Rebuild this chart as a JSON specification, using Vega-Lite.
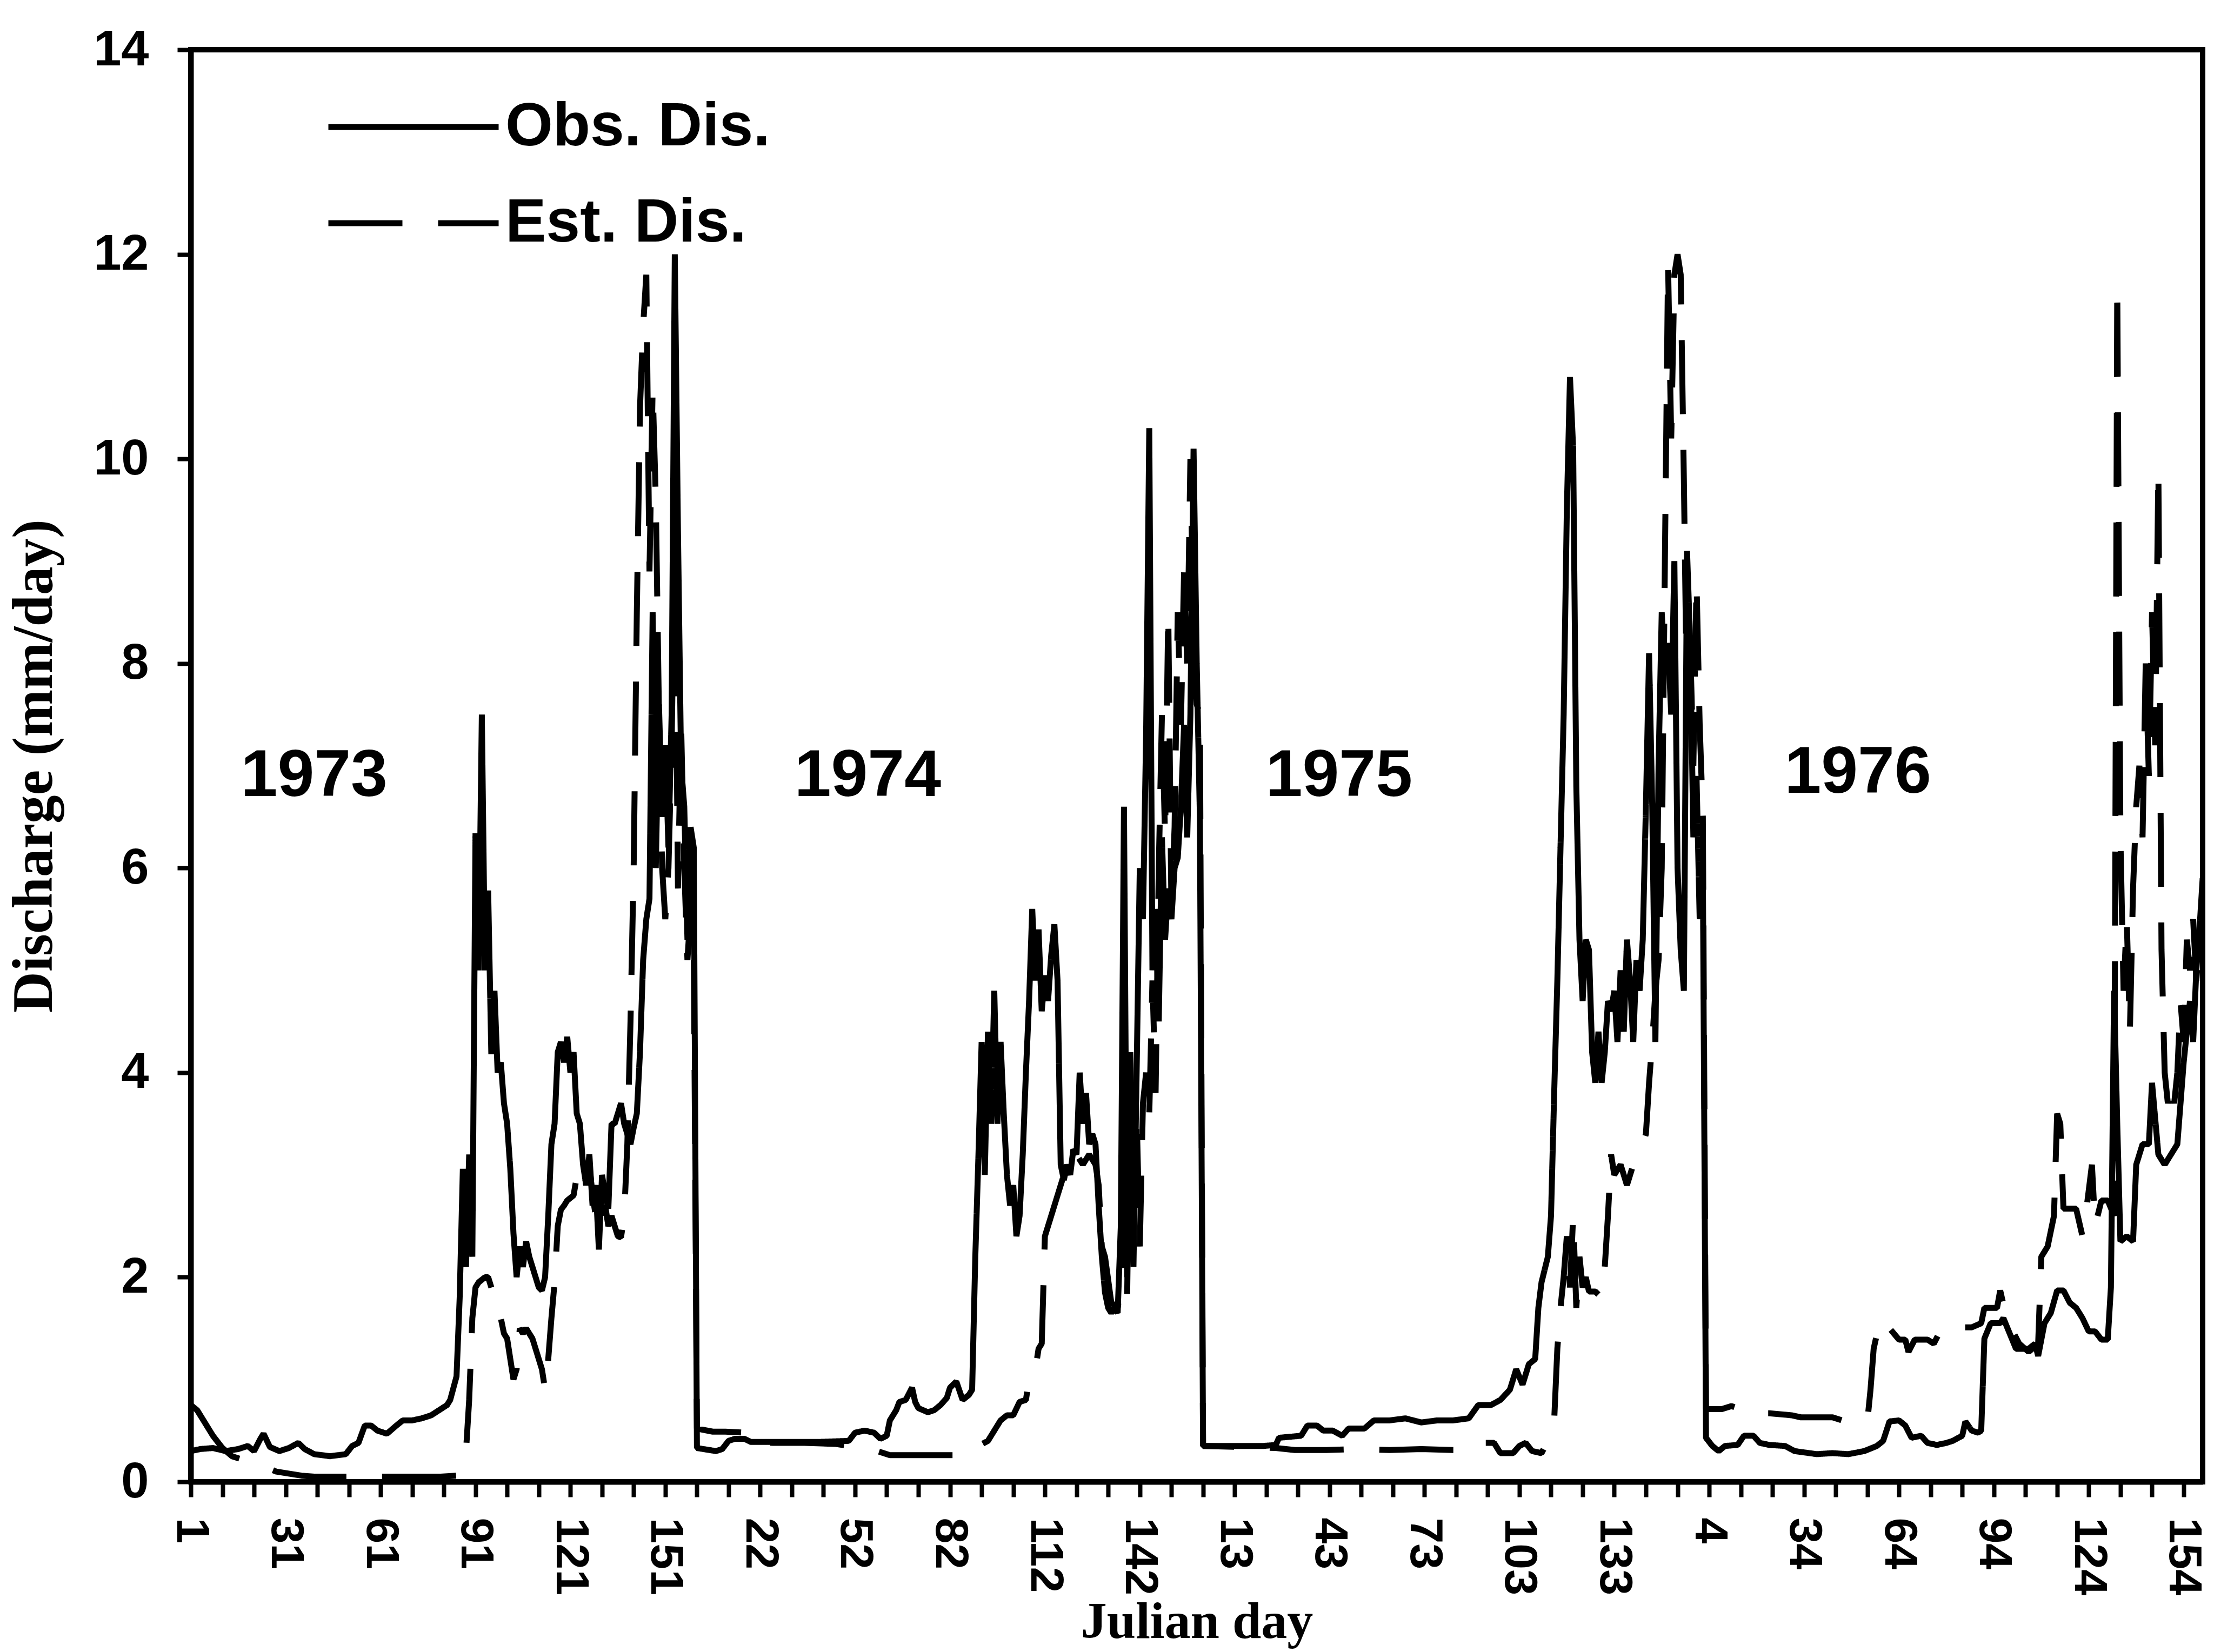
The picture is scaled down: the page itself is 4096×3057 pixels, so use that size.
{
"$schema": "https://vega.github.io/schema/vega-lite/v6.json",
"width": 3722,
"height": 2650,
"autosize": {"type": "none"},
"padding": {"left": 353, "top": 92, "right": 21, "bottom": 315},
"background": "white",
"config": {"view": {"stroke": "black", "strokeWidth": 10}},
"datasets": {
"obs": [
{"d":1,"v":0.3},{"d":4,"v":0.32},{"d":8,"v":0.33},{"d":12,"v":0.3},{"d":16,"v":0.32},{"d":19,"v":0.35},{"d":21,"v":0.3},{"d":23,"v":0.42},{"d":24,"v":0.47},{"d":26,"v":0.34},{"d":29,"v":0.3},{"d":32,"v":0.33},{"d":35,"v":0.38},{"d":37,"v":0.32},{"d":40,"v":0.27},{"d":45,"v":0.25},{"d":50,"v":0.27},{"d":52,"v":0.35},{"d":54,"v":0.38},{"d":56,"v":0.55},{"d":58,"v":0.55},{"d":60,"v":0.5},{"d":63,"v":0.47},{"d":66,"v":0.55},{"d":68,"v":0.6},{"d":71,"v":0.6},{"d":74,"v":0.62},{"d":77,"v":0.65},{"d":80,"v":0.71},{"d":82,"v":0.75},{"d":83,"v":0.8},{"d":85,"v":1.03},{"d":86,"v":1.8},{"d":87,"v":3.06},{"d":88,"v":2.1},{"d":89,"v":3.2},{"d":90,"v":2.2},{"d":91,"v":6.34},{"d":92,"v":5.0},{"d":93,"v":7.5},{"d":94,"v":5.0},{"d":95,"v":5.78},{"d":96,"v":4.18},{"d":97,"v":4.8},{"d":98,"v":4.0},{"d":99,"v":4.1},{"d":100,"v":3.7},{"d":101,"v":3.5},{"d":102,"v":3.06},{"d":103,"v":2.43},{"d":104,"v":2.0},{"d":105,"v":2.3},{"d":106,"v":2.1},{"d":107,"v":2.35},{"d":108,"v":2.2},{"d":109,"v":2.1},{"d":110,"v":2.0},{"d":111,"v":1.9},{"d":112,"v":1.87},{"d":113,"v":2.0},{"d":114,"v":2.6},{"d":115,"v":3.3},{"d":116,"v":3.5},{"d":117,"v":4.2},{"d":118,"v":4.3},{"d":119,"v":4.1},{"d":120,"v":4.35},{"d":121,"v":4.0},{"d":122,"v":4.2},{"d":123,"v":3.6},{"d":124,"v":3.5},{"d":125,"v":3.1},{"d":126,"v":2.9},{"d":127,"v":3.2},{"d":128,"v":2.7},{"d":129,"v":2.9},{"d":130,"v":2.27},{"d":131,"v":3.0},{"d":132,"v":2.8},{"d":133,"v":2.67},{"d":134,"v":3.5},{"d":135,"v":3.5},{"d":136,"v":3.6},{"d":137,"v":3.7},{"d":138,"v":3.5},{"d":139,"v":3.4},{"d":140,"v":3.3},{"d":141,"v":3.46},{"d":142,"v":3.6},{"d":143,"v":4.2},{"d":144,"v":5.1},{"d":145,"v":5.5},{"d":146,"v":5.7},{"d":147,"v":8.5},{"d":148,"v":6.0},{"d":149,"v":7.6},{"d":150,"v":6.5},{"d":151,"v":7.2},{"d":152,"v":6.2},{"d":153,"v":7.5},{"d":154,"v":12.0},{"d":155,"v":9.3},{"d":156,"v":7.0},{"d":157,"v":6.6},{"d":158,"v":5.3},{"d":159,"v":6.4},{"d":160,"v":6.2},
{"d":161,"v":0.33},{"d":163,"v":0.32},{"d":167,"v":0.3},{"d":169,"v":0.32},{"d":171,"v":0.4},{"d":173,"v":0.42},{"d":176,"v":0.42},{"d":178,"v":0.39},{"d":190,"v":0.39},{"d":200,"v":0.39},{"d":209,"v":0.4},{"d":211,"v":0.48},{"d":214,"v":0.5},{"d":217,"v":0.48},{"d":219,"v":0.42},{"d":221,"v":0.45},{"d":222,"v":0.6},{"d":224,"v":0.7},{"d":225,"v":0.78},{"d":227,"v":0.8},{"d":229,"v":0.92},{"d":230,"v":0.78},{"d":231,"v":0.72},{"d":234,"v":0.68},{"d":236,"v":0.7},{"d":238,"v":0.75},{"d":240,"v":0.82},{"d":241,"v":0.92},{"d":243,"v":0.98},{"d":245,"v":0.8},{"d":247,"v":0.85},{"d":248,"v":0.9},{"d":249,"v":2.2},{"d":250,"v":3.2},{"d":251,"v":4.3},{"d":252,"v":3.0},{"d":253,"v":4.4},{"d":254,"v":3.5},{"d":255,"v":4.8},{"d":256,"v":3.5},{"d":257,"v":4.3},{"d":258,"v":3.6},{"d":259,"v":3.0},{"d":260,"v":2.7},{"d":261,"v":2.9},{"d":262,"v":2.4},{"d":263,"v":2.6},{"d":264,"v":3.2},{"d":265,"v":4.0},{"d":266,"v":4.7},{"d":267,"v":5.6},{"d":268,"v":4.9},{"d":269,"v":5.4},{"d":270,"v":4.6},{"d":271,"v":4.95},{"d":272,"v":4.7},{"d":273,"v":5.15},{"d":274,"v":5.45},{"d":275,"v":4.9},{"d":276,"v":3.1},{"d":277,"v":2.95},{"d":278,"v":3.1},{"d":279,"v":3.0},{"d":280,"v":3.25},{"d":281,"v":3.2},{"d":282,"v":4.0},{"d":283,"v":3.5},{"d":284,"v":3.8},{"d":285,"v":3.3},{"d":286,"v":3.4},{"d":287,"v":3.3},{"d":288,"v":2.7},{"d":289,"v":2.2},{"d":290,"v":1.85},{"d":291,"v":1.7},{"d":292,"v":1.65},{"d":293,"v":1.7},{"d":294,"v":1.65},{"d":295,"v":2.5},{"d":296,"v":6.6},{"d":297,"v":2.0},{"d":298,"v":3.8},{"d":299,"v":2.1},{"d":300,"v":4.0},{"d":301,"v":6.0},{"d":302,"v":5.5},{"d":303,"v":7.3},{"d":304,"v":10.3},{"d":305,"v":5.0},{"d":306,"v":5.6},{"d":307,"v":4.5},{"d":308,"v":6.3},{"d":309,"v":5.3},{"d":310,"v":5.8},{"d":311,"v":5.5},{"d":312,"v":6.0},{"d":313,"v":6.1},{"d":314,"v":6.6},{"d":315,"v":7.4},{"d":316,"v":6.3},{"d":317,"v":7.5},{"d":318,"v":10.1},{"d":319,"v":8.0},{"d":320,"v":6.5},
{"d":321,"v":0.35},{"d":330,"v":0.35},{"d":340,"v":0.35},{"d":344,"v":0.36},{"d":345,"v":0.43},{"d":352,"v":0.45},{"d":354,"v":0.55},{"d":357,"v":0.55},{"d":359,"v":0.5},{"d":362,"v":0.5},{"d":365,"v":0.45},{"d":367,"v":0.52},{"d":372,"v":0.52},{"d":375,"v":0.6},{"d":380,"v":0.6},{"d":385,"v":0.62},{"d":390,"v":0.58},{"d":395,"v":0.6},{"d":400,"v":0.6},{"d":405,"v":0.62},{"d":408,"v":0.75},{"d":412,"v":0.75},{"d":415,"v":0.8},{"d":418,"v":0.9},{"d":420,"v":1.1},{"d":422,"v":0.95},{"d":424,"v":1.15},{"d":426,"v":1.2},{"d":427,"v":1.7},{"d":428,"v":1.95},{"d":430,"v":2.2},{"d":431,"v":2.6},{"d":432,"v":3.8},{"d":433,"v":4.9},{"d":434,"v":6.2},{"d":435,"v":7.5},{"d":436,"v":9.5},{"d":437,"v":10.8},{"d":438,"v":10.1},{"d":439,"v":6.8},{"d":440,"v":5.3},{"d":441,"v":4.7},{"d":442,"v":5.3},{"d":443,"v":5.2},{"d":444,"v":4.2},{"d":445,"v":3.9},{"d":446,"v":4.4},{"d":447,"v":3.9},{"d":448,"v":4.2},{"d":449,"v":4.7},{"d":450,"v":4.6},{"d":451,"v":4.8},{"d":452,"v":4.3},{"d":453,"v":5.0},{"d":454,"v":4.4},{"d":455,"v":5.3},{"d":456,"v":4.9},{"d":457,"v":4.3},{"d":458,"v":5.1},{"d":459,"v":4.8},{"d":460,"v":5.3},{"d":461,"v":6.6},{"d":462,"v":8.1},{"d":463,"v":6.6},{"d":464,"v":4.3},{"d":465,"v":7.0},{"d":466,"v":8.5},{"d":467,"v":7.9},{"d":468,"v":8.2},{"d":469,"v":7.5},{"d":470,"v":9.0},{"d":471,"v":6.0},{"d":472,"v":5.2},{"d":473,"v":4.8},{"d":474,"v":9.1},{"d":475,"v":8.2},{"d":476,"v":6.3},{"d":477,"v":6.9},{"d":478,"v":5.5},{"d":479,"v":6.0},
{"d":480,"v":0.43},{"d":482,"v":0.35},{"d":484,"v":0.3},{"d":486,"v":0.35},{"d":490,"v":0.36},{"d":492,"v":0.45},{"d":495,"v":0.45},{"d":497,"v":0.38},{"d":500,"v":0.36},{"d":505,"v":0.35},{"d":508,"v":0.3},{"d":515,"v":0.27},{"d":520,"v":0.28},{"d":525,"v":0.27},{"d":530,"v":0.3},{"d":534,"v":0.35},{"d":536,"v":0.4},{"d":538,"v":0.59},{"d":541,"v":0.6},{"d":543,"v":0.55},{"d":545,"v":0.43},{"d":548,"v":0.45},{"d":550,"v":0.38},{"d":553,"v":0.36},{"d":556,"v":0.38},{"d":558,"v":0.4},{"d":561,"v":0.45},{"d":562,"v":0.59},{"d":564,"v":0.5},{"d":566,"v":0.48},{"d":567,"v":0.5},{"d":568,"v":1.4},{"d":570,"v":1.55},{"d":573,"v":1.55},{"d":574,"v":1.6},{"d":576,"v":1.45},{"d":578,"v":1.3},{"d":582,"v":1.3},{"d":584,"v":1.35},{"d":585,"v":1.23},{"d":587,"v":1.55},{"d":589,"v":1.65},{"d":591,"v":1.87},{"d":593,"v":1.87},{"d":595,"v":1.75},{"d":597,"v":1.7},{"d":599,"v":1.6},{"d":601,"v":1.47},{"d":603,"v":1.47},{"d":605,"v":1.39},{"d":607,"v":1.39},{"d":608,"v":1.9},{"d":609,"v":4.8},{"d":610,"v":3.5},{"d":611,"v":2.35},{"d":613,"v":2.4},{"d":615,"v":2.35},{"d":616,"v":3.1},{"d":618,"v":3.3},{"d":620,"v":3.3},{"d":621,"v":3.9},{"d":623,"v":3.2},{"d":625,"v":3.1},{"d":627,"v":3.2},{"d":629,"v":3.3},{"d":631,"v":4.1},{"d":633,"v":4.7},{"d":634,"v":4.3},{"d":635,"v":5.0},{"d":636,"v":5.4},{"d":637,"v":5.9}
],
"est": [
{"d":1,"v":0.75},{"d":3,"v":0.7},{"d":5,"v":0.6},{"d":8,"v":0.45},{"d":11,"v":0.33},{"d":14,"v":0.25},{"d":17,"v":0.22},{"d":20,"v":0.18},{"d":24,"v":0.15},{"d":28,"v":0.1},{"d":32,"v":0.08},{"d":36,"v":0.06},{"d":40,"v":0.05},{"d":60,"v":0.05},{"d":80,"v":0.05},{"d":85,"v":0.06},{"d":87,"v":0.15},{"d":88,"v":0.3},{"d":89,"v":0.8},{"d":90,"v":1.6},{"d":91,"v":1.9},{"d":92,"v":1.95},{"d":94,"v":2.0},{"d":95,"v":2.0},{"d":96,"v":1.9},{"d":97,"v":1.8},{"d":98,"v":1.8},{"d":99,"v":1.6},{"d":100,"v":1.45},{"d":101,"v":1.4},{"d":102,"v":1.2},{"d":103,"v":1.0},{"d":104,"v":1.1},{"d":105,"v":1.5},{"d":106,"v":1.45},{"d":107,"v":1.5},{"d":108,"v":1.45},{"d":109,"v":1.4},{"d":110,"v":1.3},{"d":111,"v":1.2},{"d":112,"v":1.1},{"d":113,"v":0.9},{"d":114,"v":1.2},{"d":115,"v":1.6},{"d":116,"v":1.95},{"d":117,"v":2.5},{"d":118,"v":2.66},{"d":119,"v":2.7},{"d":120,"v":2.75},{"d":122,"v":2.8},{"d":123,"v":2.98},{"d":124,"v":3.0},{"d":125,"v":3.1},{"d":126,"v":2.9},{"d":127,"v":3.1},{"d":128,"v":2.8},{"d":129,"v":2.6},{"d":130,"v":2.75},{"d":131,"v":2.6},{"d":132,"v":2.7},{"d":133,"v":2.5},{"d":134,"v":2.6},{"d":135,"v":2.5},{"d":136,"v":2.4},{"d":137,"v":2.39},{"d":138,"v":2.6},{"d":139,"v":3.3},{"d":140,"v":4.5},{"d":141,"v":6.0},{"d":142,"v":8.5},{"d":143,"v":10.5},{"d":144,"v":11.3},{"d":145,"v":11.8},{"d":146,"v":8.9},{"d":147,"v":10.7},{"d":148,"v":9.6},{"d":149,"v":7.5},{"d":150,"v":6.0},{"d":151,"v":5.5},{"d":152,"v":6.0},{"d":153,"v":7.2},{"d":154,"v":9.3},{"d":155,"v":5.8},{"d":156,"v":7.4},{"d":157,"v":6.0},{"d":158,"v":5.1},{"d":159,"v":5.6},{"d":160,"v":5.2},
{"d":161,"v":0.52},{"d":166,"v":0.49},{"d":170,"v":0.49},{"d":176,"v":0.48},{"d":177,"v":0.39},{"d":185,"v":0.38},{"d":195,"v":0.38},{"d":205,"v":0.37},{"d":209,"v":0.35},{"d":212,"v":0.32},{"d":218,"v":0.3},{"d":222,"v":0.26},{"d":248,"v":0.26},{"d":250,"v":0.35},{"d":253,"v":0.4},{"d":255,"v":0.5},{"d":257,"v":0.6},{"d":259,"v":0.65},{"d":261,"v":0.65},{"d":263,"v":0.78},{"d":265,"v":0.8},{"d":266,"v":1.0},{"d":268,"v":1.1},{"d":269,"v":1.3},{"d":270,"v":1.35},{"d":271,"v":2.4},{"d":273,"v":2.6},{"d":275,"v":2.8},{"d":277,"v":3.0},{"d":279,"v":3.0},{"d":281,"v":3.2},{"d":283,"v":3.1},{"d":285,"v":3.2},{"d":287,"v":3.1},{"d":288,"v":2.9},{"d":289,"v":2.3},{"d":290,"v":2.2},{"d":292,"v":1.75},{"d":294,"v":1.7},{"d":295,"v":1.9},{"d":296,"v":3.0},{"d":297,"v":1.8},{"d":298,"v":4.2},{"d":299,"v":2.5},{"d":300,"v":3.6},{"d":301,"v":2.3},{"d":302,"v":3.7},{"d":303,"v":4.0},{"d":304,"v":3.6},{"d":305,"v":4.9},{"d":306,"v":3.8},{"d":307,"v":6.0},{"d":308,"v":7.5},{"d":309,"v":6.3},{"d":310,"v":8.5},{"d":311,"v":5.6},{"d":312,"v":6.4},{"d":313,"v":8.5},{"d":314,"v":7.4},{"d":315,"v":8.9},{"d":316,"v":8.0},{"d":317,"v":10.0},{"d":318,"v":8.3},{"d":319,"v":7.6},{"d":320,"v":7.5},
{"d":321,"v":0.35},{"d":344,"v":0.33},{"d":350,"v":0.31},{"d":360,"v":0.31},{"d":370,"v":0.32},{"d":380,"v":0.31},{"d":390,"v":0.32},{"d":400,"v":0.31},{"d":407,"v":0.31},{"d":409,"v":0.38},{"d":413,"v":0.38},{"d":415,"v":0.28},{"d":419,"v":0.28},{"d":421,"v":0.35},{"d":423,"v":0.38},{"d":425,"v":0.3},{"d":428,"v":0.28},{"d":430,"v":0.4},{"d":431,"v":0.5},{"d":432,"v":0.6},{"d":433,"v":1.3},{"d":434,"v":1.7},{"d":435,"v":2.0},{"d":436,"v":2.4},{"d":437,"v":1.9},{"d":438,"v":2.6},{"d":439,"v":1.7},{"d":440,"v":2.2},{"d":441,"v":1.9},{"d":442,"v":2.0},{"d":443,"v":1.86},{"d":445,"v":1.86},{"d":447,"v":1.8},{"d":448,"v":2.1},{"d":449,"v":2.6},{"d":450,"v":3.2},{"d":451,"v":3.0},{"d":453,"v":3.1},{"d":455,"v":2.9},{"d":457,"v":3.1},{"d":459,"v":3.2},{"d":461,"v":3.4},{"d":462,"v":3.9},{"d":463,"v":4.3},{"d":464,"v":4.8},{"d":465,"v":5.1},{"d":466,"v":6.0},{"d":467,"v":9.0},{"d":468,"v":11.9},{"d":469,"v":10.2},{"d":470,"v":11.8},{"d":471,"v":12.0},{"d":472,"v":11.8},{"d":473,"v":9.8},{"d":474,"v":7.5},{"d":475,"v":8.2},{"d":476,"v":7.0},{"d":477,"v":8.8},{"d":478,"v":7.4},{"d":479,"v":6.5},
{"d":480,"v":0.71},{"d":485,"v":0.71},{"d":488,"v":0.74},{"d":490,"v":0.72},{"d":492,"v":0.67},{"d":500,"v":0.67},{"d":507,"v":0.65},{"d":510,"v":0.63},{"d":520,"v":0.63},{"d":523,"v":0.6},{"d":531,"v":0.59},{"d":532,"v":0.9},{"d":533,"v":1.3},{"d":535,"v":1.58},{"d":537,"v":1.58},{"d":538,"v":1.5},{"d":541,"v":1.39},{"d":543,"v":1.39},{"d":544,"v":1.27},{"d":546,"v":1.39},{"d":550,"v":1.39},{"d":552,"v":1.35},{"d":554,"v":1.47},{"d":556,"v":1.47},{"d":558,"v":1.43},{"d":560,"v":1.51},{"d":564,"v":1.51},{"d":567,"v":1.55},{"d":568,"v":1.7},{"d":572,"v":1.7},{"d":573,"v":1.87},{"d":575,"v":1.6},{"d":577,"v":1.47},{"d":579,"v":1.35},{"d":582,"v":1.27},{"d":585,"v":1.35},{"d":586,"v":2.2},{"d":588,"v":2.3},{"d":590,"v":2.6},{"d":591,"v":3.6},{"d":592,"v":3.5},{"d":593,"v":2.67},{"d":597,"v":2.67},{"d":599,"v":2.4},{"d":600,"v":2.6},{"d":602,"v":3.1},{"d":603,"v":2.5},{"d":605,"v":2.75},{"d":607,"v":2.75},{"d":609,"v":2.6},{"d":610,"v":11.7},{"d":611,"v":6.3},{"d":612,"v":4.8},{"d":613,"v":5.5},{"d":614,"v":4.4},{"d":615,"v":5.8},{"d":616,"v":6.6},{"d":617,"v":7.0},{"d":618,"v":6.3},{"d":619,"v":8.0},{"d":620,"v":6.9},{"d":621,"v":8.5},{"d":622,"v":7.2},{"d":623,"v":9.9},{"d":624,"v":5.2},{"d":625,"v":4.0},{"d":626,"v":3.7},{"d":627,"v":3.9},{"d":628,"v":3.7},{"d":629,"v":4.0},{"d":630,"v":4.7},{"d":631,"v":4.3},{"d":632,"v":5.3},{"d":633,"v":5.0},{"d":634,"v":5.5},{"d":635,"v":4.9},{"d":636,"v":5.3},{"d":637,"v":5.5}
],
"years": [
{"label":"1973","d":40,"v":6.9},{"label":"1974","d":215,"v":6.9},{"label":"1975","d":364,"v":6.9},{"label":"1976","d":528,"v":6.93}
]
},
"layer": [
{
"data": {"name": "obs"},
"mark": {"type": "line", "stroke": "black", "strokeWidth": 11, "strokeJoin": "bevel", "clip": true},
"encoding": {
"x": {"field": "d", "type": "quantitative", "scale": {"domain": [1, 637], "nice": false, "zero": false},
"axis": {"title": "Julian day", "values": [1,11,21,31,41,51,61,71,81,91,101,111,121,131,141,151,161,171,181,191,201,211,221,231,241,251,261,271,281,291,301,311,321,331,341,351,361,371,381,391,401,411,421,431,441,451,461,471,481,491,501,511,521,531,541,551,561,571,581,591,601,611,621,631],
"labelExpr": "(datum.value - 1) % 30 == 0 ? '' + ((datum.value - 1) % 159 + 1) : ''",
"labelAngle": 90, "labelFont": "Liberation Sans", "labelFontWeight": "bold", "labelFontSize": 86, "labelColor": "black", "labelPadding": 38, "labelOverlap": false, "labelBound": false, "labelFlush": false, "labelLimit": 1000,
"tickSize": 28, "tickWidth": 8, "tickColor": "black", "domainColor": "black", "domainWidth": 10, "grid": false,
"titleFont": "Liberation Serif", "titleFontWeight": "bold", "titleFontSize": 96, "titleColor": "black", "titlePadding": 12}},
"y": {"field": "v", "type": "quantitative", "scale": {"domain": [0, 14], "nice": false},
"axis": {"title": "Discharge (mm/day)", "values": [0,2,4,6,8,10,12,14], "format": "d",
"labelFont": "Liberation Sans", "labelFontWeight": "bold", "labelFontSize": 92, "labelColor": "black", "labelPadding": 53, "labelLimit": 1000,
"tickSize": 25, "tickWidth": 8, "tickColor": "black", "domainColor": "black", "domainWidth": 10, "grid": false,
"titleFont": "Liberation Serif", "titleFontWeight": "bold", "titleFontSize": 105, "titleColor": "black", "titlePadding": 55}},
"strokeDash": {"datum": "Obs. Dis.", "type": "nominal",
"scale": {"domain": ["Obs. Dis.", "Est. Dis."], "range": [[1, 0], [137, 66]]},
"legend": {"title": null, "orient": "none", "legendX": 249, "legendY": 55, "symbolType": "stroke", "symbolSize": 99225, "symbolStrokeWidth": 11, "symbolStrokeColor": "black", "clipHeight": 176, "rowPadding": 2,
"labelFont": "Liberation Sans", "labelFontWeight": "bold", "labelFontSize": 113, "labelColor": "black", "labelOffset": 7, "labelLimit": 1000}}
}
},
{
"data": {"name": "est"},
"mark": {"type": "line", "stroke": "black", "strokeWidth": 11, "strokeJoin": "bevel", "clip": true},
"encoding": {
"x": {"field": "d", "type": "quantitative"},
"y": {"field": "v", "type": "quantitative"},
"strokeDash": {"datum": "Est. Dis.", "type": "nominal"}
}
},
{
"data": {"name": "years"},
"mark": {"type": "text", "font": "Liberation Sans", "fontWeight": "bold", "fontSize": 122, "color": "black", "align": "center", "baseline": "middle"},
"encoding": {
"x": {"field": "d", "type": "quantitative"},
"y": {"field": "v", "type": "quantitative"},
"text": {"field": "label"}
}
}
]
}
